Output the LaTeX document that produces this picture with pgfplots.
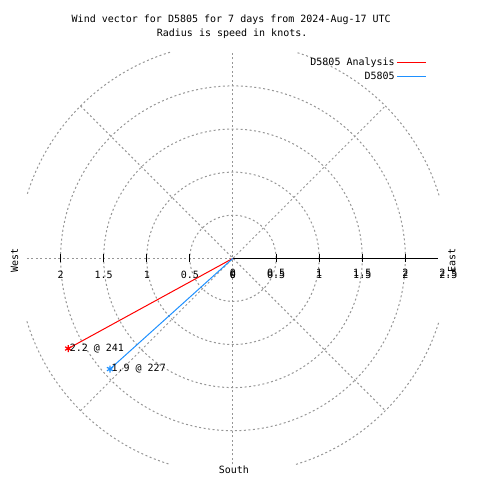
\documentclass[border=0pt]{standalone}
\usepackage{pgfplots}
\pgfplotsset{compat=1.18}
\usepackage{fontspec}
\setmainfont{DejaVu Sans Mono}
\definecolor{gridgray}{RGB}{150,150,150}
\definecolor{anared}{RGB}{255,0,0}
\definecolor{obsblue}{RGB}{30,144,255}
\begin{document}
\fontsize{10bp}{12bp}\selectfont
\begin{tikzpicture}
\begin{axis}[
  hide axis, clip=false,
  x=86.2bp, y=86.2bp,
  xmin=-2.39, xmax=2.39, ymin=-2.39, ymax=2.39,
  legend plot pos=right,
  legend cell align=right,
  legend style={draw=none, fill=none, at={(axis cs:2.25,2.35)}, anchor=north east,
    font=\fontsize{10bp}{12bp}\selectfont, row sep=1bp, inner sep=0pt},
  legend image code/.code={\draw[#1] (4bp,0bp) -- (33bp,0bp);},
]
% bounding box of the whole 480x480 picture
\path (axis cs:-2.703,-2.572) rectangle (axis cs:2.865,2.997);
% grid
\pgfplotsinvokeforeach{43.1,86.2,129.3,172.4}{
  \draw[gridgray, line width=1bp, dash pattern=on 2bp off 2.5bp] (axis cs:0,0) circle[radius=#1bp];
}
\pgfplotsinvokeforeach{17,107,197,287}{
  \draw[gridgray, line width=1bp, dash pattern=on 2bp off 2.5bp] (axis cs:0,0) ++(#1:215.5bp) arc[start angle=#1, delta angle=56, radius=215.5bp];
}
\draw[gridgray, line width=1bp, dash pattern=on 2bp off 2.5bp] (axis cs:0,-2.39) -- (axis cs:0,2.39);
\draw[gridgray, line width=1bp, dash pattern=on 2bp off 2.5bp] (axis cs:-2.39,0) -- (axis cs:0,0);
\draw[gridgray, line width=1bp, dash pattern=on 2bp off 2.5bp] (axis cs:-1.768,-1.768) -- (axis cs:1.768,1.768);
\draw[gridgray, line width=1bp, dash pattern=on 2bp off 2.5bp] (axis cs:-1.768,1.768) -- (axis cs:1.768,-1.768);
% r axis
\draw[black, line width=1bp] (axis cs:0,0) -- (axis cs:2.38,0);
\pgfplotsinvokeforeach{-2,-1.5,-1,-0.5,0.5,1,1.5,2}{
  \draw[black, line width=1bp] (axis cs:#1,-0.045) -- (axis cs:#1,0.045);
}
% tick labels
\node at (axis cs:-2,-0.195) {2};
\node at (axis cs:-1.5,-0.195) {1.5};
\node at (axis cs:-1,-0.195) {1};
\node at (axis cs:-0.5,-0.195) {0.5};
\node at (axis cs:0,-0.195) {0};
\pgfplotsinvokeforeach{0,0.5,1,1.5,2,2.5}{
  \node at (axis cs:#1,-0.165) {#1};
  \node at (axis cs:#1,-0.19) {#1};
}
% direction labels
\node[rotate=90] at (axis cs:-2.535,-0.02) {West};
\node[rotate=90] at (axis cs:2.54,-0.02) {East};
\node at (axis cs:0.01,-2.456) {South};
% title
\node at (axis cs:-0.02,2.765) {Wind vector for D5805 for 7 days from 2024-Aug-17 UTC};
\node at (axis cs:-0.01,2.61) {Radius is speed in knots.};
% data
\addplot[anared, line width=1bp, mark=none, data cs=polar] coordinates {(0,0) (208.7,2.18)};
\addlegendentry{D5805 Analysis}
\addplot[obsblue, line width=1bp, mark=none, data cs=polar] coordinates {(0,0) (222.0,1.92)};
\addlegendentry{D5805}
\addplot[anared, only marks, mark=asterisk, mark size=3.5bp, line width=1.2bp, data cs=polar,
  nodes near coords, point meta=explicit symbolic,
  nodes near coords style={black, anchor=west, inner sep=1bp, font=\fontsize{10bp}{12bp}\selectfont}]
  coordinates {(208.7,2.18) [2.2 @ 241]};
\addplot[obsblue, only marks, mark=asterisk, mark size=3.5bp, line width=1.2bp, data cs=polar,
  nodes near coords, point meta=explicit symbolic,
  nodes near coords style={black, anchor=west, inner sep=1bp, font=\fontsize{10bp}{12bp}\selectfont}]
  coordinates {(222.0,1.92) [1.9 @ 227]};
\end{axis}
\end{tikzpicture}
\end{document}
